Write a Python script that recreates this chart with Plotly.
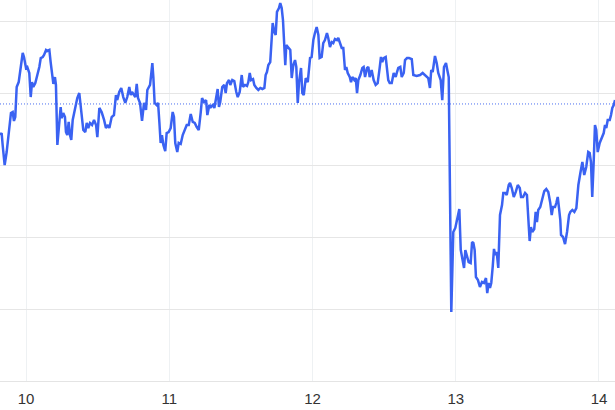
import plotly.graph_objects as go

# time in fractional day-of-month, price values
days = [
    9.818, 9.830, 9.837, 9.851, 9.865, 9.876, 9.895, 9.907, 9.916, 9.925, 9.935, 9.949, 9.963, 9.977, 9.986,
    10.000, 10.009, 10.023, 10.033, 10.042, 10.051, 10.065, 10.079, 10.093, 10.103, 10.117, 10.126, 10.140,
    10.149, 10.163, 10.172, 10.182, 10.191, 10.202, 10.209, 10.219, 10.232, 10.242, 10.249, 10.260, 10.272,
    10.279, 10.288, 10.298, 10.307, 10.316, 10.326, 10.340, 10.358, 10.372, 10.386, 10.400, 10.414, 10.424,
    10.435, 10.447, 10.461, 10.475, 10.489, 10.498, 10.512,
    10.528, 10.545, 10.558, 10.572, 10.582, 10.598, 10.614, 10.628, 10.637, 10.651, 10.665, 10.679, 10.693,
    10.707, 10.721, 10.731, 10.740, 10.754, 10.763, 10.773, 10.782, 10.796, 10.810, 10.824, 10.838, 10.847,
    10.856, 10.866, 10.875, 10.882, 10.889, 10.898, 10.912, 10.922, 10.931, 10.940, 10.949, 10.959, 10.972,
    10.982, 10.996, 11.010, 11.024, 11.033, 11.042, 11.056, 11.066, 11.080, 11.094, 11.108, 11.122, 11.136,
    11.150, 11.164, 11.178, 11.192, 11.206, 11.220, 11.229, 11.243, 11.257, 11.266, 11.280,
    11.291, 11.305, 11.315, 11.328, 11.338, 11.347, 11.356, 11.370, 11.384, 11.394, 11.403, 11.417, 11.426,
    11.440, 11.454, 11.468, 11.478, 11.492, 11.506, 11.515, 11.529, 11.543, 11.552, 11.562, 11.571, 11.585,
    11.594, 11.608, 11.622, 11.636, 11.650, 11.664, 11.673, 11.682, 11.692, 11.705, 11.715, 11.722, 11.733,
    11.743, 11.752, 11.766, 11.775, 11.785, 11.794, 11.803, 11.810, 11.817, 11.831, 11.845, 11.855, 11.866,
    11.878, 11.887, 11.897, 11.906, 11.920, 11.929, 11.939, 11.953, 11.967,
    11.983, 11.994, 12.006, 12.017, 12.029, 12.041, 12.050, 12.064, 12.075, 12.087, 12.101, 12.110, 12.122,
    12.134, 12.145, 12.157, 12.171, 12.180, 12.190, 12.204, 12.215, 12.227, 12.236, 12.246, 12.260, 12.269,
    12.278, 12.292, 12.302, 12.311, 12.320, 12.334, 12.348, 12.357, 12.367, 12.381, 12.390, 12.399, 12.413,
    12.427, 12.441, 12.455, 12.469, 12.478, 12.487, 12.497, 12.511, 12.520, 12.529, 12.539, 12.553, 12.567,
    12.581, 12.590, 12.599, 12.613, 12.623, 12.637, 12.646, 12.660, 12.674,
    12.693, 12.704, 12.727, 12.751, 12.769, 12.785, 12.808, 12.820, 12.829, 12.839, 12.855, 12.867, 12.878,
    12.895, 12.906, 12.918, 12.932, 12.941, 12.951, 12.969, 12.983, 12.997, 13.011, 13.025, 13.035, 13.049,
    13.058, 13.067, 13.077, 13.090, 13.104, 13.114, 13.123, 13.132, 13.141, 13.155, 13.169, 13.183, 13.197,
    13.211, 13.220, 13.230, 13.239, 13.248, 13.258, 13.267, 13.276, 13.286, 13.297, 13.309, 13.323, 13.332,
    13.346, 13.356, 13.370, 13.379,
    13.391, 13.405, 13.419, 13.433, 13.447, 13.456, 13.470, 13.484, 13.497, 13.507, 13.516, 13.525, 13.534,
    13.548, 13.558, 13.567, 13.576, 13.590, 13.604, 13.618, 13.632, 13.646, 13.660, 13.670, 13.679, 13.693,
    13.702, 13.712, 13.721, 13.730, 13.735, 13.749, 13.763, 13.777, 13.791, 13.800, 13.814, 13.828, 13.842,
    13.856, 13.870, 13.884, 13.897, 13.911, 13.925, 13.935, 13.944, 13.953, 13.963, 13.972, 13.981, 13.991,
    14.005, 14.019, 14.033, 14.042, 14.051, 14.061, 14.075, 14.084, 14.093, 14.103, 14.112,
]

prices = [
    177.08, 177.22, 176.39, 175.00, 175.90, 176.88, 178.61, 178.68, 178.06, 178.33, 180.42, 180.76, 181.81,
    182.78, 182.50, 181.74, 181.81, 181.39, 179.72, 180.76, 180.42, 180.69, 181.25, 181.81, 182.43, 182.50,
    182.64, 182.99, 182.92, 182.99, 182.15, 181.11, 180.63, 181.11, 180.56, 176.39, 177.78, 179.03, 178.26,
    178.61, 178.33, 177.29, 177.08, 177.99, 177.08, 176.74, 178.13, 178.82, 179.65, 180.00, 178.68, 177.43,
    177.29, 177.92, 177.57, 177.92, 177.78, 178.13, 177.78, 176.94, 178.96,
    178.68, 178.13, 177.57, 177.78, 177.57, 178.33, 178.47, 179.86, 179.51, 180.07, 180.35, 179.72, 179.31,
    179.72, 180.42, 179.86, 180.07, 179.86, 179.72, 180.63, 179.65, 179.31, 178.06, 179.31, 178.82, 180.21,
    180.35, 180.56, 181.39, 182.08, 181.11, 179.31, 179.17, 179.31, 177.99, 176.53, 177.08, 176.39, 175.97,
    177.22, 177.29, 177.57, 178.68, 178.33, 176.53, 175.90, 176.53, 176.46, 177.08, 177.43, 177.78, 177.78,
    178.54, 177.99, 177.92, 177.64, 177.43, 178.68, 179.65, 179.38, 179.51, 178.47, 179.17,
    179.03, 179.17, 178.96, 179.72, 180.28, 179.03, 179.38, 180.42, 180.56, 180.00, 180.69, 180.90, 180.56,
    180.90, 180.83, 180.07, 179.72, 180.07, 181.25, 180.42, 180.56, 180.49, 180.76, 181.39, 180.90, 180.97,
    180.56, 180.35, 180.21, 180.35, 180.28, 180.35, 181.25, 181.46, 181.94, 182.15, 183.47, 184.86, 184.24,
    184.03, 185.63, 185.90, 186.25, 185.90, 185.07, 183.47, 181.94, 183.33, 183.19, 182.99, 181.04, 181.94,
    182.29, 181.81, 179.31, 180.76, 181.74, 180.00, 179.86, 181.04, 180.76,
    182.43, 182.50, 183.68, 184.17, 184.58, 184.03, 182.43, 182.50, 183.47, 183.68, 184.17, 183.82, 183.19,
    183.54, 183.47, 183.75, 183.68, 183.82, 183.47, 183.13, 183.13, 181.60, 181.81, 181.39, 181.11, 180.76,
    181.11, 180.90, 181.04, 180.00, 180.90, 181.25, 181.74, 181.81, 181.11, 181.74, 181.81, 181.11, 181.60,
    180.90, 180.56, 180.69, 181.74, 182.50, 182.15, 182.43, 182.50, 181.74, 180.90, 180.69, 180.69, 181.39,
    181.11, 181.46, 181.74, 181.81, 181.11, 181.39, 182.29, 182.43, 182.43,
    182.36, 181.25, 181.18, 181.25, 181.39, 181.25, 181.04, 180.35, 181.60, 181.46, 182.57, 182.08, 181.39,
    180.90, 179.51, 181.81, 182.08, 181.60, 181.11, 164.79, 170.35, 170.63, 171.39, 171.94, 169.10, 168.40,
    167.85, 169.10, 168.75, 168.26, 168.19, 169.65, 169.58, 169.10, 167.22, 167.01, 166.53, 166.88, 166.81,
    167.15, 166.11, 166.81, 166.46, 166.81, 167.92, 169.17, 168.75, 168.96, 167.85, 171.53, 172.22, 173.06,
    173.06, 172.92, 173.61, 173.75,
    173.40, 172.78, 173.13, 173.61, 173.40, 172.78, 172.78, 173.06, 172.92, 171.32, 169.72, 170.69, 170.35,
    170.56, 171.74, 171.04, 171.88, 172.08, 172.71, 173.19, 173.33, 173.13, 172.36, 171.53, 172.08, 172.08,
    172.36, 172.78, 172.01, 171.18, 170.14, 170.00, 169.51, 170.35, 171.53, 171.74, 171.88, 171.74, 172.01,
    173.61, 174.44, 175.21, 174.31, 174.86, 175.90, 175.83, 175.21, 172.78, 175.21, 177.78, 177.43, 175.90,
    176.53, 176.94, 177.22, 177.78, 177.57, 178.13, 178.13, 178.47, 178.96, 179.17, 179.51,
]

reference_price = 179.24
day_ticks = [10, 11, 12, 13, 14]
day_labels = ["10", "11", "12", "13", "14"]
y_grid = [160, 165, 170, 175, 180, 185]

fig = go.Figure()
fig.add_trace(go.Scatter(
    x=days, y=prices, mode="lines",
    line=dict(color="#3a62f2", width=2.5),
    hoverinfo="skip", showlegend=False,
))
fig.add_hline(y=reference_price, line=dict(color="#4a6ff0", width=1, dash="1px,2px"))

fig.update_layout(
    width=615, height=410,
    margin=dict(l=0, r=0, t=0, b=29),
    paper_bgcolor="white", plot_bgcolor="white",
    font=dict(family="Liberation Sans, Arial, sans-serif", size=15, color="#333333"),
    showlegend=False,
)
fig.update_xaxes(
    range=[9.8185, 14.1118],
    tickmode="array", tickvals=day_ticks, ticktext=day_labels,
    showgrid=True, gridcolor="#eef1f3", gridwidth=1,
    zeroline=False, showline=True, linecolor="#e4e4e4", linewidth=1,
    ticks="outside", ticklen=4, tickcolor="rgba(0,0,0,0)",
)
fig.update_yaxes(
    range=[160, 186.46],
    tickmode="array", tickvals=y_grid,
    showticklabels=False,
    showgrid=True, gridcolor="#e6e6e6", gridwidth=1,
    zeroline=False,
)

fig.write_html(
    "out.html",
    config={"displayModeBar": False, "staticPlot": True},
    post_script="document.body.style.margin='0';document.body.style.overflow='hidden';",
)
